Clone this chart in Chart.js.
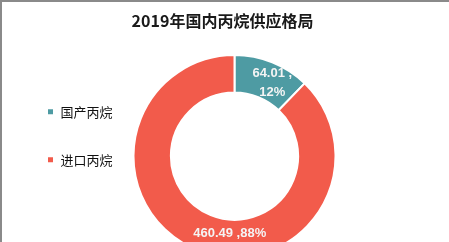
<!DOCTYPE html>
<html>
<head>
<meta charset="utf-8">
<script src="https://cdn.jsdelivr.net/npm/chart.js@4"></script>
<style>
  html, body { margin: 0; padding: 0; background: #fff; overflow: hidden; }
  #wrap { position: relative; width: 449px; height: 242px; }
  #frame { position: absolute; left: 0; top: 0; right: 0; bottom: 0; border-top: 2px solid #8a8a8a; border-left: 2px solid #8a8a8a; pointer-events: none; }
</style>
</head>
<body>
<div id="wrap">
  <canvas id="chart" width="449" height="242"></canvas>
  <div id="frame"></div>
</div>
<script>
    // Data
    const categories = ['国产丙烷', '进口丙烷'];
    const supply = [64.01, 460.49];
    const chartTitle = '2019年国内丙烷供应格局';

    // Styles
    const sliceColors = ['#4e9ba3', '#f25b4b'];
    const labelWrap = [true, false];
    const labelShift = [[7, 3.5], [26, 0.5]];

    // Value labels drawn on the slices
    const sliceLabels = {
      id: 'sliceLabels',
      afterDatasetsDraw(chart) {
        const ctx = chart.ctx;
        const meta = chart.getDatasetMeta(0);
        const total = supply.reduce((a, b) => a + b, 0);
        ctx.save();
        ctx.fillStyle = '#f4f4f4';
        ctx.font = 'bold 13px "Liberation Sans"';
        ctx.textAlign = 'center';
        ctx.textBaseline = 'middle';
        meta.data.forEach(function(arc, i) {
          const pos = arc.tooltipPosition();
          const value = supply[i].toFixed(2);
          const pct = Math.round(supply[i] / total * 100) + '%';
          const x = pos.x + labelShift[i][0];
          const y = pos.y + labelShift[i][1];
          if (labelWrap[i]) {
            ctx.fillText(value + ' ,', x, y - 9.5);
            ctx.fillText(pct, x, y + 9.5);
          } else {
            ctx.fillText(value + ' ,' + pct, x, y);
          }
        });
        ctx.restore();
      }
    };

    // The legend only reserves a narrow strip so the doughnut stays centred;
    // widen its drawing box again so its text is not clipped
    const legendRoom = {
      id: 'legendRoom',
      afterLayout(chart) {
        const legend = chart.legend;
        legend.width = 110;
        legend.right = legend.left + 110;
      }
    };

    const ctx = document.getElementById('chart').getContext('2d');
    const chart = new Chart(ctx, {
      type: 'doughnut',
      data: {
        labels: categories,
        datasets: [{
          data: supply,
          backgroundColor: sliceColors,
          borderColor: '#ffffff',
          borderWidth: 2
        }]
      },
      options: {
        responsive: false,
        animation: false,
        radius: 101,
        cutout: '63%',
        layout: {
          padding: { left: 12, right: 16, top: 0, bottom: 0 }
        },
        plugins: {
          title: {
            display: true,
            text: chartTitle,
            color: '#1a1a1a',
            font: { family: 'Noto Sans CJK SC', size: 16, weight: 'bold' },
            padding: { top: 11, bottom: 40 }
          },
          legend: {
            position: 'left',
            align: 'start',
            fullSize: false,
            maxWidth: 24,
            labels: {
              boxWidth: 7,
              boxHeight: 7,
              padding: 35,
              color: '#111111',
              font: { family: 'Noto Sans CJK SC', size: 13 }
            }
          },
          tooltip: { enabled: false }
        }
      },
      plugins: [sliceLabels, legendRoom]
    });
</script>
</body>
</html>
